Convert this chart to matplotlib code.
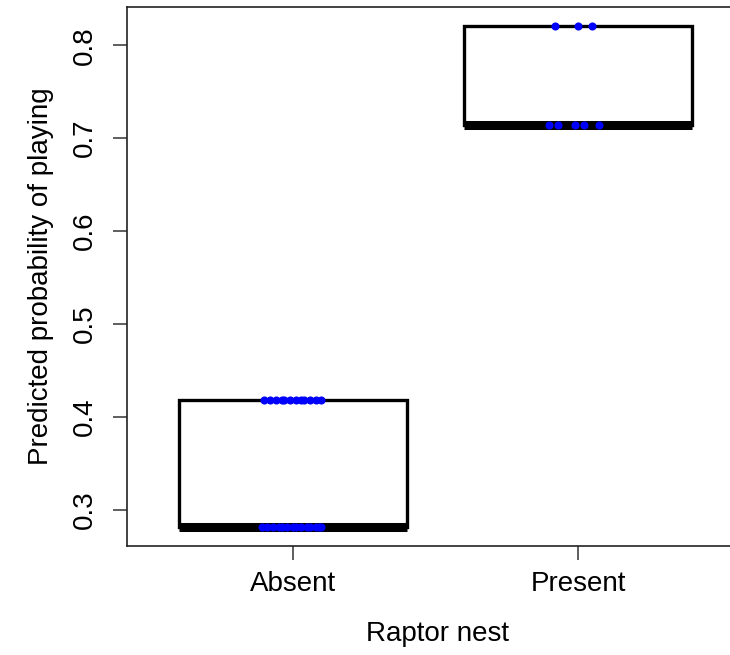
import matplotlib
matplotlib.use("Agg")
import matplotlib.pyplot as plt

plt.rcParams['font.family'] = ['Liberation Sans', 'DejaVu Sans']

# Groups and predicted probabilities
groups = ["Absent", "Present"]
absent_high = 0.418
absent_low = 0.282
present_high = 0.821
present_low = 0.714

# Jittered horizontal offsets of individual predictions (units of group spacing)
absent_high_jitter = [-0.10, -0.08, -0.06, -0.04, -0.03, -0.01, 0.01, 0.03, 0.04, 0.06, 0.08, 0.10]
absent_low_jitter = [-0.11, -0.09, -0.07, -0.05, -0.04, -0.02, 0.0, 0.01, 0.03, 0.05, 0.06, 0.08, 0.09, 0.10]
present_high_jitter = [-0.08, 0.0, 0.05]
present_low_jitter = [-0.10, -0.07, -0.01, 0.02, 0.075]

absent_vals = [absent_high] * len(absent_high_jitter) + [absent_low] * len(absent_low_jitter)
present_vals = [present_high] * len(present_high_jitter) + [present_low] * len(present_low_jitter)

fig = plt.figure(figsize=(7.3, 6.55), dpi=100)
ax = fig.add_axes([127 / 730, 109 / 655, 622 / 730, 539 / 655])

bp = ax.boxplot([absent_vals, present_vals], positions=[1, 2], widths=0.8,
                whis=1.5, showcaps=False, showfliers=False, patch_artist=True,
                boxprops=dict(facecolor="white", edgecolor="black", linewidth=2.4),
                medianprops=dict(color="black", linewidth=6.5, solid_capstyle="butt"),
                whiskerprops=dict(color="black", linewidth=2.4))

def jitter_points(center, value, offsets):
    xs = [center + o for o in offsets]
    ax.scatter(xs, [value] * len(xs), s=34, color="blue", zorder=5, linewidths=0)

jitter_points(1, absent_high, absent_high_jitter)
jitter_points(1, absent_low, absent_low_jitter)
jitter_points(2, present_high, present_high_jitter)
jitter_points(2, present_low, present_low_jitter)

ax.set_xlim(0.418, 2.6)
ax.set_ylim(0.2611, 0.8411)

ax.set_xticks([1, 2])
ax.set_xticklabels(groups, fontsize=20)
yt = [0.3, 0.4, 0.5, 0.6, 0.7, 0.8]
ax.set_yticks(yt)
ax.set_yticklabels([f"{v:.1f}" for v in yt], fontsize=20, rotation=90, va="center")

ax.tick_params(axis="both", length=10, width=1.1, color="#333333")
ax.tick_params(axis="y", pad=11)
ax.tick_params(axis="x", pad=8)

for side in ["left", "top", "bottom"]:
    ax.spines[side].set_linewidth(1.2)
    ax.spines[side].set_color("#222222")
ax.spines["right"].set_visible(False)

ax.set_xlabel("Raptor nest", fontsize=20, labelpad=17)
ax.set_ylabel("Predicted probability of playing", fontsize=20, labelpad=13)

fig.savefig("out.png", dpi=100)
